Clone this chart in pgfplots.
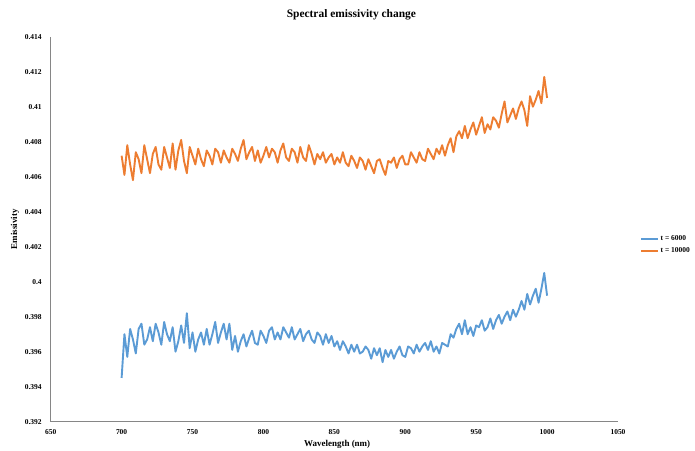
\documentclass[border=0pt]{standalone}
\usepackage{fontspec}
\setmainfont{Liberation Serif}
\usepackage{pgfplots}
\pgfplotsset{compat=1.18}

\definecolor{serA}{RGB}{91,155,213}
\definecolor{serB}{RGB}{237,125,49}
\definecolor{axgray}{RGB}{134,134,134}

\begin{document}
\begin{tikzpicture}
\useasboundingbox (-50.7bp,-29.3bp) rectangle (644.3bp,421.7bp);
\begin{axis}[
    scale only axis,
    width=567.3bp, height=385bp,
    xmin=650, xmax=1050, ymin=0.392, ymax=0.414,
    xtick={650,700,...,1050},
    ytick={0.392,0.394,...,0.4141},
    axis x line=bottom, axis y line=left,
    axis line style={axgray, line width=0.9bp, -},
    major tick length=0pt,
    scaled y ticks=false,
    /pgf/number format/.cd, fixed, precision=3, 1000 sep={}, assume math mode=true,
    /pgfplots/.cd,
    tick label style={font=\fontsize{7.5}{8}\selectfont\bfseries},
    yticklabel style={xshift=-5.5bp},
    xticklabel style={yshift=-4.5bp},
    title={Spectral emissivity change},
    title style={font=\fontsize{11.5}{13}\selectfont\bfseries, at={(0.53,1.041)}, anchor=center},
    xlabel={Wavelength (nm)},
    xlabel style={font=\fontsize{9}{10}\selectfont\bfseries, at={(axis description cs:0.505,-0.058)}, anchor=center},
    ylabel={Emissivity},
    ylabel style={font=\fontsize{9}{10}\selectfont\bfseries, at={(axis description cs:-0.063,0.5)}, anchor=center, rotate=0},
    legend style={at={(axis description cs:1.039,0.459)}, anchor=west, draw=none, fill=none,
        inner sep=0pt, row sep=3bp, font=\fontsize{7.5}{8}\selectfont\bfseries,
        nodes={inner sep=1.5bp}},
    legend cell align=left,
    every axis plot/.append style={line width=1.9bp, line join=round, mark=none},
]

% t = 6000
\addplot[serA] coordinates {
(700,0.3945) (702,0.3970) (704,0.3957) (706,0.3973) (708,0.3967) (710,0.3959) (712,0.3973) (714,0.3976)
(716,0.3964) (718,0.3967) (720,0.3974) (722,0.3966) (724,0.3976) (726,0.3971) (728,0.3964) (730,0.3977)
(732,0.3970) (734,0.3966) (736,0.3974) (738,0.3960) (740,0.3966) (742,0.3975) (744,0.3965) (746,0.3982)
(748,0.3962) (750,0.3971) (752,0.3960) (754,0.3967) (756,0.3971) (758,0.3964) (760,0.3973) (762,0.3964)
(764,0.3970) (766,0.3977) (768,0.3965) (770,0.3971) (772,0.3976) (774,0.3967) (776,0.3976) (778,0.3961)
(780,0.3969) (782,0.3960) (784,0.3966) (786,0.3970) (788,0.3963) (790,0.3968) (792,0.3972) (794,0.3965)
(796,0.3964) (798,0.3972) (800,0.3969) (802,0.3965) (804,0.3972) (806,0.3974) (808,0.3967) (810,0.3971)
(812,0.3967) (814,0.3974) (816,0.3971) (818,0.3968) (820,0.3974) (822,0.3967) (824,0.3970) (826,0.3973)
(828,0.3966) (830,0.3970) (832,0.3972) (834,0.3967) (836,0.3965) (838,0.3971) (840,0.3969) (842,0.3964)
(844,0.3970) (846,0.3965) (848,0.3969) (850,0.3963) (852,0.3966) (854,0.3961) (856,0.3966) (858,0.3963)
(860,0.3959) (862,0.3964) (864,0.3960) (866,0.3964) (868,0.3959) (870,0.3960) (872,0.3963) (874,0.3961)
(876,0.3956) (878,0.3962) (880,0.3958) (882,0.3962) (884,0.3954) (886,0.3961) (888,0.3957) (890,0.3961)
(892,0.3956) (894,0.3960) (896,0.3963) (898,0.3958) (900,0.3957) (902,0.3963) (904,0.3962) (906,0.3959)
(908,0.3964) (910,0.3960) (912,0.3963) (914,0.3965) (916,0.3961) (918,0.3966) (920,0.3960) (922,0.3963)
(924,0.3959) (926,0.3965) (928,0.3964) (930,0.3963) (932,0.3970) (934,0.3968) (936,0.3973) (938,0.3976)
(940,0.3970) (942,0.3978) (944,0.3970) (946,0.3974) (948,0.3969) (950,0.3975) (952,0.3974) (954,0.3978)
(956,0.3972) (958,0.3974) (960,0.3979) (962,0.3973) (964,0.3978) (966,0.3981) (968,0.3976) (970,0.3980)
(972,0.3983) (974,0.3978) (976,0.3984) (978,0.3980) (980,0.3984) (982,0.3989) (984,0.3984) (986,0.3993)
(988,0.3987) (990,0.3992) (992,0.3996) (994,0.3988) (996,0.3996) (998,0.4005) (1000,0.3992)
};
\addlegendentry{t = 6000}

% t = 10000
\addplot[serB] coordinates {
(700,0.4072) (702,0.4061) (704,0.4078) (706,0.4067) (708,0.4058) (710,0.4074) (712,0.4070) (714,0.4062)
(716,0.4078) (718,0.4070) (720,0.4062) (722,0.4073) (724,0.4077) (726,0.4067) (728,0.4064) (730,0.4077)
(732,0.4071) (734,0.4065) (736,0.4079) (738,0.4064) (740,0.4075) (742,0.4081) (744,0.4069) (746,0.4062)
(748,0.4077) (750,0.4072) (752,0.4067) (754,0.4076) (756,0.4070) (758,0.4066) (760,0.4075) (762,0.4072)
(764,0.4067) (766,0.4076) (768,0.4074) (770,0.4068) (772,0.4075) (774,0.4071) (776,0.4068) (778,0.4076)
(780,0.4073) (782,0.4069) (784,0.4076) (786,0.4081) (788,0.4070) (790,0.4074) (792,0.4077) (794,0.4069)
(796,0.4075) (798,0.4068) (800,0.4072) (802,0.4077) (804,0.4071) (806,0.4076) (808,0.4074) (810,0.4068)
(812,0.4075) (814,0.4079) (816,0.4071) (818,0.4069) (820,0.4076) (822,0.4074) (824,0.4068) (826,0.4077)
(828,0.4071) (830,0.4069) (832,0.4078) (834,0.4073) (836,0.4067) (838,0.4073) (840,0.4070) (842,0.4074)
(844,0.4068) (846,0.4071) (848,0.4073) (850,0.4067) (852,0.4071) (854,0.4068) (856,0.4074) (858,0.4068)
(860,0.4066) (862,0.4072) (864,0.4069) (866,0.4065) (868,0.4071) (870,0.4069) (872,0.4064) (874,0.4070)
(876,0.4066) (878,0.4062) (880,0.4069) (882,0.4070) (884,0.4065) (886,0.4061) (888,0.4069) (890,0.4068)
(892,0.4071) (894,0.4065) (896,0.4070) (898,0.4072) (900,0.4067) (902,0.4067) (904,0.4074) (906,0.4071)
(908,0.4068) (910,0.4074) (912,0.4070) (914,0.4069) (916,0.4076) (918,0.4073) (920,0.4070) (922,0.4076)
(924,0.4073) (926,0.4078) (928,0.4072) (930,0.4078) (932,0.4082) (934,0.4074) (936,0.4083) (938,0.4086)
(940,0.4082) (942,0.4089) (944,0.4082) (946,0.4087) (948,0.4091) (950,0.4084) (952,0.4089) (954,0.4094)
(956,0.4085) (958,0.4090) (960,0.4087) (962,0.4094) (964,0.4092) (966,0.4088) (968,0.4096) (970,0.4103)
(972,0.4091) (974,0.4095) (976,0.4099) (978,0.4093) (980,0.4099) (982,0.4103) (984,0.4098) (986,0.4089)
(988,0.4106) (990,0.4100) (992,0.4104) (994,0.4109) (996,0.4102) (998,0.4117) (1000,0.4105)
};
\addlegendentry{t = 10000}

\end{axis}
\end{tikzpicture}
\end{document}
